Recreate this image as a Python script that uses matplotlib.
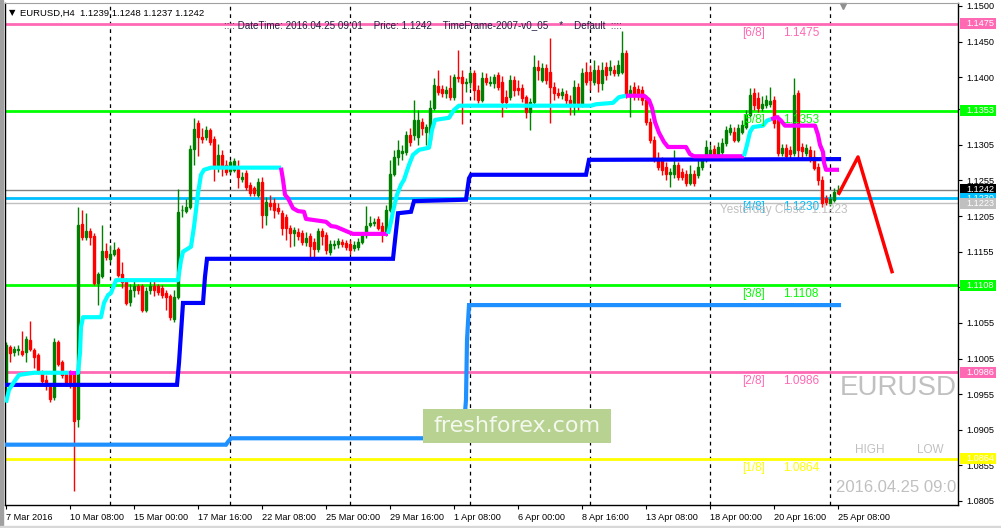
import matplotlib
matplotlib.use("Agg")
import matplotlib.pyplot as plt
from matplotlib.patches import Rectangle

plt.rcParams['font.family'] = ['Liberation Sans', 'DejaVu Sans']

# EURUSD H4 candles (bar 0 = 7 Mar 2016)
opens = [1.0968, 1.1021, 1.1014, 1.1017, 1.1016, 1.1014, 1.1031, 1.1017, 1.1010, 1.0985,
         1.0975, 1.0965, 1.0951, 1.1028, 1.1000, 1.0983, 1.0982, 1.0985, 1.0920, 1.1194,
         1.1176, 1.1184, 1.1177, 1.1111, 1.1121, 1.1156, 1.1145, 1.1152, 1.1159, 1.1124,
         1.1115, 1.1084, 1.1101, 1.1107, 1.1107, 1.1073, 1.1101, 1.1107, 1.1107, 1.1104,
         1.1097, 1.1093, 1.1061, 1.1091, 1.1213, 1.1212, 1.1218, 1.1299, 1.1336, 1.1316,
         1.1316, 1.1326, 1.1313, 1.1274, 1.1291, 1.1277, 1.1268, 1.1270, 1.1271, 1.1257,
         1.1265, 1.1249, 1.1244, 1.1235, 1.1253, 1.1207, 1.1223, 1.1223, 1.1216, 1.1209,
         1.1204, 1.1188, 1.1181, 1.1183, 1.1181, 1.1169, 1.1177, 1.1169, 1.1159, 1.1184,
         1.1178, 1.1155, 1.1165, 1.1166, 1.1169, 1.1167, 1.1166, 1.1160, 1.1162, 1.1169,
         1.1178, 1.1192, 1.1195, 1.1201, 1.1191, 1.1181, 1.1214, 1.1264, 1.1288, 1.1294,
         1.1295, 1.1319, 1.1319, 1.1316, 1.1337, 1.1323, 1.1312, 1.1357, 1.1388, 1.1383,
         1.1378, 1.1385, 1.1372, 1.1400, 1.1400, 1.1392, 1.1393, 1.1406, 1.1382, 1.1368,
         1.1399, 1.1392, 1.1392, 1.1403, 1.1393, 1.1372, 1.1372, 1.1396, 1.1385, 1.1385,
         1.1372, 1.1351, 1.1365, 1.1414, 1.1396, 1.1413, 1.1407, 1.1386, 1.1378, 1.1375,
         1.1376, 1.1368, 1.1364, 1.1386, 1.1361, 1.1407, 1.1407, 1.1393, 1.1410, 1.1392,
         1.1414, 1.1410, 1.1410, 1.1406, 1.1407, 1.1434, 1.1374, 1.1386, 1.1383, 1.1382,
         1.1368, 1.1337, 1.1312, 1.1287, 1.1284, 1.1274, 1.1264, 1.1264, 1.1277, 1.1267,
         1.1264, 1.1252, 1.1264, 1.1263, 1.1274, 1.1285, 1.1289, 1.1299, 1.1291, 1.1295,
         1.1308, 1.1323, 1.1323, 1.1312, 1.1323, 1.1330, 1.1347, 1.1378, 1.1371, 1.1357,
         1.1361, 1.1362, 1.1368, 1.1340, 1.1294, 1.1301, 1.1298, 1.1294, 1.1378, 1.1302,
         1.1294, 1.1298, 1.1288, 1.1274, 1.1256, 1.1230, 1.1223, 1.1228, 1.1239]
highs = [1.1028, 1.1024, 1.1023, 1.1024, 1.1044, 1.1037, 1.1058, 1.1020, 1.1013, 1.0989,
         1.0982, 1.0969, 1.1034, 1.1031, 1.1003, 1.0986, 1.0989, 1.0988, 1.1218, 1.1214,
         1.1209, 1.1188, 1.1181, 1.1127, 1.1192, 1.1167, 1.1164, 1.1169, 1.1162, 1.1141,
         1.1118, 1.1110, 1.1115, 1.1110, 1.1110, 1.1105, 1.1117, 1.1115, 1.1110, 1.1108,
         1.1101, 1.1096, 1.1101, 1.1243, 1.1221, 1.1229, 1.1305, 1.1343, 1.1340, 1.1329,
         1.1332, 1.1329, 1.1317, 1.1306, 1.1298, 1.1284, 1.1284, 1.1287, 1.1284, 1.1267,
         1.1270, 1.1253, 1.1247, 1.1258, 1.1260, 1.1232, 1.1235, 1.1230, 1.1223, 1.1214,
         1.1208, 1.1192, 1.1190, 1.1188, 1.1185, 1.1183, 1.1181, 1.1174, 1.1188, 1.1188,
         1.1183, 1.1172, 1.1172, 1.1174, 1.1173, 1.1172, 1.1172, 1.1170, 1.1174, 1.1183,
         1.1219, 1.1205, 1.1202, 1.1205, 1.1197, 1.1221, 1.1284, 1.1298, 1.1312, 1.1305,
         1.1324, 1.1329, 1.1368, 1.1354, 1.1343, 1.1334, 1.1368, 1.1399, 1.1410, 1.1389,
         1.1388, 1.1403, 1.1405, 1.1438, 1.1410, 1.1399, 1.1410, 1.1410, 1.1389, 1.1407,
         1.1406, 1.1402, 1.1405, 1.1407, 1.1402, 1.1382, 1.1403, 1.1402, 1.1396, 1.1390,
         1.1375, 1.1371, 1.1431, 1.1424, 1.1420, 1.1419, 1.1455, 1.1393, 1.1385, 1.1385,
         1.1382, 1.1375, 1.1396, 1.1392, 1.1413, 1.1421, 1.1417, 1.1424, 1.1417, 1.1421,
         1.1421, 1.1424, 1.1417, 1.1424, 1.1465, 1.1438, 1.1389, 1.1393, 1.1389, 1.1388,
         1.1375, 1.1343, 1.1317, 1.1295, 1.1288, 1.1281, 1.1273, 1.1298, 1.1281, 1.1273,
         1.1270, 1.1277, 1.1270, 1.1287, 1.1291, 1.1312, 1.1305, 1.1305, 1.1309, 1.1315,
         1.1332, 1.1334, 1.1330, 1.1334, 1.1340, 1.1354, 1.1385, 1.1385, 1.1379, 1.1374,
         1.1375, 1.1386, 1.1374, 1.1347, 1.1306, 1.1306, 1.1303, 1.1399, 1.1382, 1.1308,
         1.1306, 1.1303, 1.1298, 1.1280, 1.1261, 1.1235, 1.1233, 1.1244, 1.1248]
lows = [1.0954, 1.1000, 1.1009, 1.1010, 1.1009, 1.1000, 1.1016, 1.0992, 1.0983, 1.0971,
        1.0961, 1.0944, 1.0947, 1.0995, 1.0978, 1.0967, 1.0964, 1.0819, 1.0909, 1.1172,
        1.1172, 1.1164, 1.1108, 1.1080, 1.1118, 1.1143, 1.1141, 1.1149, 1.1120, 1.1104,
        1.1080, 1.1079, 1.1091, 1.1096, 1.1070, 1.1070, 1.1096, 1.1093, 1.1094, 1.1090,
        1.1073, 1.1059, 1.1056, 1.1089, 1.1204, 1.1209, 1.1215, 1.1277, 1.1289, 1.1308,
        1.1312, 1.1305, 1.1254, 1.1267, 1.1261, 1.1263, 1.1265, 1.1267, 1.1244, 1.1253,
        1.1242, 1.1233, 1.1233, 1.1232, 1.1188, 1.1192, 1.1214, 1.1202, 1.1208, 1.1178,
        1.1172, 1.1162, 1.1163, 1.1172, 1.1164, 1.1163, 1.1146, 1.1146, 1.1155, 1.1164,
        1.1152, 1.1150, 1.1159, 1.1160, 1.1162, 1.1157, 1.1152, 1.1156, 1.1157, 1.1166,
        1.1174, 1.1190, 1.1191, 1.1185, 1.1169, 1.1177, 1.1211, 1.1261, 1.1277, 1.1284,
        1.1291, 1.1303, 1.1312, 1.1305, 1.1319, 1.1305, 1.1305, 1.1354, 1.1375, 1.1372,
        1.1371, 1.1368, 1.1368, 1.1393, 1.1334, 1.1379, 1.1385, 1.1368, 1.1364, 1.1365,
        1.1389, 1.1388, 1.1385, 1.1382, 1.1344, 1.1357, 1.1368, 1.1374, 1.1375, 1.1365,
        1.1343, 1.1326, 1.1362, 1.1396, 1.1393, 1.1390, 1.1336, 1.1368, 1.1371, 1.1370,
        1.1362, 1.1347, 1.1347, 1.1354, 1.1358, 1.1389, 1.1382, 1.1389, 1.1379, 1.1382,
        1.1396, 1.1403, 1.1402, 1.1402, 1.1405, 1.1371, 1.1344, 1.1368, 1.1368, 1.1361,
        1.1333, 1.1308, 1.1281, 1.1270, 1.1263, 1.1256, 1.1246, 1.1258, 1.1256, 1.1256,
        1.1247, 1.1249, 1.1247, 1.1258, 1.1270, 1.1281, 1.1284, 1.1287, 1.1288, 1.1291,
        1.1303, 1.1319, 1.1309, 1.1309, 1.1320, 1.1327, 1.1344, 1.1354, 1.1351, 1.1353,
        1.1357, 1.1358, 1.1329, 1.1289, 1.1289, 1.1284, 1.1287, 1.1289, 1.1284, 1.1287,
        1.1289, 1.1281, 1.1270, 1.1249, 1.1218, 1.1221, 1.1219, 1.1225, 1.1237]
closes = [1.1024, 1.1013, 1.1018, 1.1018, 1.1011, 1.1033, 1.1018, 1.1007, 1.0986, 1.0973,
          1.0969, 1.0948, 1.1028, 1.0997, 1.0982, 1.0971, 1.0969, 1.0917, 1.1192, 1.1176,
          1.1184, 1.1176, 1.1111, 1.1124, 1.1156, 1.1148, 1.1152, 1.1157, 1.1122, 1.1112,
          1.1083, 1.1101, 1.1107, 1.1101, 1.1073, 1.1100, 1.1107, 1.1101, 1.1098, 1.1094,
          1.1091, 1.1063, 1.1091, 1.1211, 1.1214, 1.1218, 1.1299, 1.1327, 1.1316, 1.1313,
          1.1326, 1.1309, 1.1274, 1.1291, 1.1274, 1.1267, 1.1281, 1.1282, 1.1260, 1.1260,
          1.1246, 1.1237, 1.1237, 1.1253, 1.1207, 1.1225, 1.1219, 1.1214, 1.1212, 1.1188,
          1.1188, 1.1181, 1.1185, 1.1177, 1.1169, 1.1174, 1.1163, 1.1159, 1.1184, 1.1177,
          1.1157, 1.1166, 1.1166, 1.1170, 1.1166, 1.1162, 1.1157, 1.1164, 1.1169, 1.1178,
          1.1191, 1.1195, 1.1197, 1.1188, 1.1181, 1.1214, 1.1264, 1.1288, 1.1298, 1.1296,
          1.1319, 1.1309, 1.1340, 1.1340, 1.1329, 1.1330, 1.1357, 1.1389, 1.1379, 1.1378,
          1.1382, 1.1372, 1.1400, 1.1399, 1.1392, 1.1393, 1.1406, 1.1382, 1.1368, 1.1399,
          1.1393, 1.1393, 1.1400, 1.1386, 1.1365, 1.1365, 1.1396, 1.1382, 1.1382, 1.1371,
          1.1351, 1.1365, 1.1414, 1.1410, 1.1413, 1.1396, 1.1386, 1.1378, 1.1375, 1.1379,
          1.1368, 1.1364, 1.1386, 1.1361, 1.1406, 1.1393, 1.1396, 1.1410, 1.1392, 1.1410,
          1.1403, 1.1414, 1.1406, 1.1417, 1.1434, 1.1374, 1.1382, 1.1375, 1.1374, 1.1368,
          1.1337, 1.1312, 1.1287, 1.1274, 1.1270, 1.1264, 1.1267, 1.1277, 1.1260, 1.1260,
          1.1252, 1.1264, 1.1252, 1.1274, 1.1285, 1.1302, 1.1298, 1.1291, 1.1302, 1.1308,
          1.1326, 1.1329, 1.1312, 1.1329, 1.1333, 1.1347, 1.1375, 1.1361, 1.1357, 1.1362,
          1.1368, 1.1367, 1.1336, 1.1294, 1.1301, 1.1289, 1.1292, 1.1375, 1.1298, 1.1296,
          1.1301, 1.1287, 1.1273, 1.1256, 1.1223, 1.1225, 1.1229, 1.1239, 1.1242]

date_ticks = [0, 16, 32, 48, 64, 80, 96, 112, 128, 144, 160, 176, 192, 208]
date_labels = ['7 Mar 2016', '10 Mar 08:00', '15 Mar 00:00', '17 Mar 16:00', '22 Mar 08:00',
               '25 Mar 00:00', '29 Mar 16:00', '1 Apr 08:00', '6 Apr 00:00', '8 Apr 16:00',
               '13 Apr 08:00', '18 Apr 00:00', '20 Apr 16:00', '25 Apr 08:00']
grid_bars = [26, 56, 86, 116, 146, 176, 206]
price_ticks = [1.1500, 1.1450, 1.1400, 1.1355, 1.1305, 1.1255, 1.1205, 1.1155,
               1.1105, 1.1055, 1.1005, 1.0955, 1.0905, 1.0855, 1.0805]
# labels fully covered by the level boxes on the scale
hidden_ticks = [1.1355, 1.1105]

# murrey math levels
level_names = ['[6/8]', '[5/8]', '[4/8]', '[3/8]', '[2/8]', '[1/8]']
level_prices = [1.1475, 1.1353, 1.1230, 1.1108, 1.0986, 1.0864]
level_colors = ['#ff69b4', '#00ff00', '#00bfff', '#00ff00', '#ff69b4', '#ffff00']
last_price = 1.1242
yesterday_close = 1.1223

# trailing line (cyan = up, magenta = down), vertices as (bar, price)
trail_bars = [0, 0.75, 2, 3.25, 7, 15.75, 17.5, 18, 18.5, 18.75, 19.25, 23.75, 24.5, 25.5,
              26.25, 27.5, 43, 43.75, 44.25, 46.25, 47, 48, 48.75, 49.5, 51.25, 68.75,
              69.25, 69.75, 70.5, 71.75, 73, 74.5, 75, 78.75, 80, 81.25, 82.5, 85, 86.75, 95.5,
              96.25, 96.75, 97.75, 98.75, 99.5, 100.75, 101.75, 103.25, 105.75, 106.5, 107.25,
              110.75, 112, 113.25, 146.25, 147.5, 151.75, 153.25, 155,
              159.5, 160.75, 161.5, 162.25, 163.25, 164.5, 165.5, 170, 171, 172, 184.5,
              185.25, 186, 186.75, 189.25, 190.25, 191.25,
              192.75, 193.75, 194.75, 202.25, 203, 203.5, 204.25, 204.5, 205, 208.25]
trail_prices = [1.0943, 1.0961, 1.0972, 1.0982, 1.0985, 1.0985, 1.0985, 1.0985, 1.1013, 1.1049,
                1.1063, 1.1063, 1.1083, 1.1094, 1.1097, 1.1115, 1.1115, 1.1143, 1.1155, 1.1162,
                1.1190, 1.1237, 1.1263, 1.1270, 1.1273, 1.1273,
                1.1256, 1.1235, 1.1230, 1.1216, 1.1212, 1.1211, 1.1201, 1.1198, 1.1197, 1.1191,
                1.1190, 1.1184, 1.1180, 1.1180,
                1.1197, 1.1212, 1.1235, 1.1249, 1.1256, 1.1277, 1.1291, 1.1298, 1.1301, 1.1326,
                1.1340, 1.1343, 1.1354, 1.1360, 1.1360, 1.1362, 1.1364, 1.1372, 1.1374,
                1.1374, 1.1368, 1.1357, 1.1337, 1.1322, 1.1309, 1.1302, 1.1302, 1.1292, 1.1289,
                1.1289, 1.1305, 1.1323, 1.1330, 1.1332, 1.1339, 1.1341,
                1.1344, 1.1339, 1.1332, 1.1332, 1.1319, 1.1305, 1.1295, 1.1280, 1.1270, 1.1270]
# 1 = segment starting at this vertex is up (cyan), 0 = down (magenta)
trail_up = [1, 1, 1, 1, 1, 0, 1, 1, 1, 1, 1, 1, 1, 1, 1, 1, 1, 1, 1, 1, 1, 1, 1, 1, 1, 0,
            0, 0, 0, 0, 0, 0, 0, 0, 0, 0, 0, 0, 0, 1,
            1, 1, 1, 1, 1, 1, 1, 1, 1, 1, 1, 1, 1, 1, 1, 1, 1, 1, 0,
            0, 0, 0, 0, 0, 0, 0, 0, 0, 0, 1,
            1, 1, 1, 1, 1, 0,
            0, 0, 0, 0, 0, 0, 0, 0, 0, 0]

# slow step line (blue) and weekly step line (dodger blue)
blue_bars = [0, 42.75, 43.25, 43.75, 44.25, 49.25, 49.75, 50.25, 96.75, 97.25, 98, 101.25,
             102, 115, 115.75, 116.25, 145, 145.75, 208.25]
blue_prices = [1.0968, 1.0968, 1.0999, 1.1041, 1.1083, 1.1083, 1.1120, 1.1145, 1.1145, 1.1171,
               1.1209, 1.1211, 1.1226, 1.1228, 1.1258, 1.1263, 1.1263, 1.1284, 1.1285]
dblue_bars = [0, 55, 55.5, 56.25, 114.25, 115, 115.25, 115.75, 208.25]
dblue_prices = [1.0884, 1.0884, 1.0888, 1.0893, 1.0893, 1.0947, 1.1031, 1.1080, 1.1080]

# projected path
proj_bars = [208.25, 213, 221.5]
proj_prices = [1.1237, 1.1288, 1.1127]

W, H = 1001, 528
fig = plt.figure(figsize=(W / 100, H / 100), dpi=100)
fig.patch.set_facecolor('white')
ax = fig.add_axes([5 / W, 1 - 505 / H, 953 / W, 502 / H])
ax.set_facecolor('white')
ax.set_xlim(-0.25, 238.0)
ax.set_ylim(1.07993, 1.15042)

fig.patches.append(Rectangle((0, 0), 3 / W, 1, transform=fig.transFigure,
                             color='#a0a0a0', zorder=0))
fig.patches.append(Rectangle((0, 0), 1, 2 / H, transform=fig.transFigure,
                             color='#d8d8d8', zorder=0))

# grid
for b in grid_bars:
    ax.axvline(b, color='black', lw=0.9, ls=(0, (3, 3)), zorder=0.5)

# horizontal levels
for p, c in zip(level_prices, level_colors):
    ax.axhline(p, color=c, lw=2, zorder=1)
ax.axhline(last_price, color='#808080', lw=1, zorder=1)
ax.axhline(yesterday_close, color='#c0c0c0', lw=1, zorder=1)

# candles
xs = list(range(len(closes)))
cols = ['#008000' if c >= o else '#ff0000' for o, c in zip(opens, closes)]
ax.vlines(xs, lows, highs, colors=cols, lw=1, zorder=2)
ax.bar(xs, [abs(c - o) for o, c in zip(opens, closes)],
       bottom=[min(o, c) for o, c in zip(opens, closes)],
       width=0.55, color=cols, edgecolor=cols, lw=1.0, zorder=2.1)

# indicator lines
ax.plot(dblue_bars, dblue_prices, color='#1e90ff', lw=3, zorder=3,
        solid_joinstyle='miter')
ax.plot(blue_bars, blue_prices, color='#0000ff', lw=3, zorder=3,
        solid_joinstyle='miter')
start = 0
for k in range(1, len(trail_bars)):
    if k == len(trail_bars) - 1 or trail_up[k] != trail_up[start]:
        col = '#00ffff' if trail_up[start] else '#ff00ff'
        ax.plot(trail_bars[start:k + 1], trail_prices[start:k + 1], color=col,
                lw=3, zorder=3.2, solid_capstyle='butt')
        start = k
ax.plot(proj_bars, proj_prices, color='#ff0000', lw=2.5, zorder=3.3)

# level labels on chart
for n, p, c in zip(level_names, level_prices, level_colors):
    ax.annotate(n, xy=(184.0, p), xytext=(0, -9), textcoords='offset pixels',
                color=c, fontsize=8.5, va='center', ha='left', zorder=4)
    ax.annotate('%.4f' % p, xy=(194.25, p), xytext=(0, -9), textcoords='offset pixels',
                color=c, fontsize=8.5, va='center', ha='left', zorder=4)
ax.annotate('Yesterday Close  %.4f' % yesterday_close, xy=(178.5, yesterday_close),
            xytext=(0, -7), textcoords='offset pixels', color='#c0c0c0',
            fontsize=8.5, va='center', ha='left', zorder=4)

# decorations in axes fraction
ax.text(0.8762, 0.233, 'EURUSD', transform=ax.transAxes, color='#c0c0c0',
        fontsize=20, va='center', ha='left')
ax.text(0.8919, 0.1096, 'HIGH', transform=ax.transAxes, color='#c0c0c0',
        fontsize=8.5, va='center', ha='left')
ax.text(0.957, 0.1096, 'LOW', transform=ax.transAxes, color='#c0c0c0',
        fontsize=8.5, va='center', ha='left')
ax.text(0.872, 0.034, '2016.04.25 09:01', transform=ax.transAxes, color='#c0c0c0',
        fontsize=12, va='center', ha='left', clip_on=True)
ax.add_patch(Rectangle((0.4386, 0.1235), 0.1973, 0.0677, transform=ax.transAxes,
                       facecolor='#b7d291', edgecolor='none', zorder=5))
ax.text(0.5373, 0.157, 'freshforex.com', transform=ax.transAxes, color='#f4f8ee',
        fontsize=16, va='center', ha='center', zorder=6, family='DejaVu Sans')
ax.plot([0.8794], [0.994], marker='v', color='#909090', ms=5,
        transform=ax.transAxes, clip_on=False)

# axes look
for s in ['left', 'bottom', 'right']:
    ax.spines[s].set_color('black')
    ax.spines[s].set_linewidth(1)
ax.spines['top'].set_color('#a0a0a0')
ax.yaxis.tick_right()
ax.set_yticks(price_ticks)
ax.set_yticklabels(['' if t in hidden_ticks else '%.4f' % t for t in price_ticks])
ax.set_xticks(date_ticks)
ax.set_xticklabels(date_labels, ha='left')
ax.tick_params(axis='y', length=3, width=0.8, pad=3, labelsize=6.6, colors='black')
ax.tick_params(axis='x', length=3, width=0.8, pad=3, labelsize=6.6, colors='black')

# price boxes on the right scale
ytr = ax.get_yaxis_transform()
boxes = [(1.1475, '#ff69b4'), (1.1353, '#00ff00'), (1.1108, '#00ff00'), (1.0986, '#ff69b4'),
         (1.0864, '#ffff00'), (last_price, '#000000'), (1.1230, '#00bfff'),
         (yesterday_close, '#c0c0c0')]
bh = 0.00155
for z, (p, c) in enumerate(boxes):
    ax.add_patch(Rectangle((1.0021, p - bh / 2), 0.0378, bh, transform=ytr,
                           facecolor=c, edgecolor='none', clip_on=False, zorder=10 + z))
    ax.text(1.0084, p, '%.4f' % p, transform=ytr, color='white', fontsize=6.6,
            va='center', ha='left', clip_on=False, zorder=10.5 + z)

# header
fig.text(8.5 / W, 1 - 13 / H, '\u25bc', fontsize=6, va='center', ha='left',
         family='DejaVu Sans')
fig.text(20 / W, 1 - 13 / H, 'EURUSD,H4  1.1239 1.1248 1.1237 1.1242',
         fontsize=6.8, va='center', ha='left')
fig.text(224 / W, 1 - 25 / H,
         ':::: DateTime: 2016.04.25 09:01    Price: 1.1242    TimeFrame-2007-v0_05    *    Default  ::::',
         fontsize=7.1, va='center', ha='left', color='#202040')

fig.savefig('out.png', dpi=100)
